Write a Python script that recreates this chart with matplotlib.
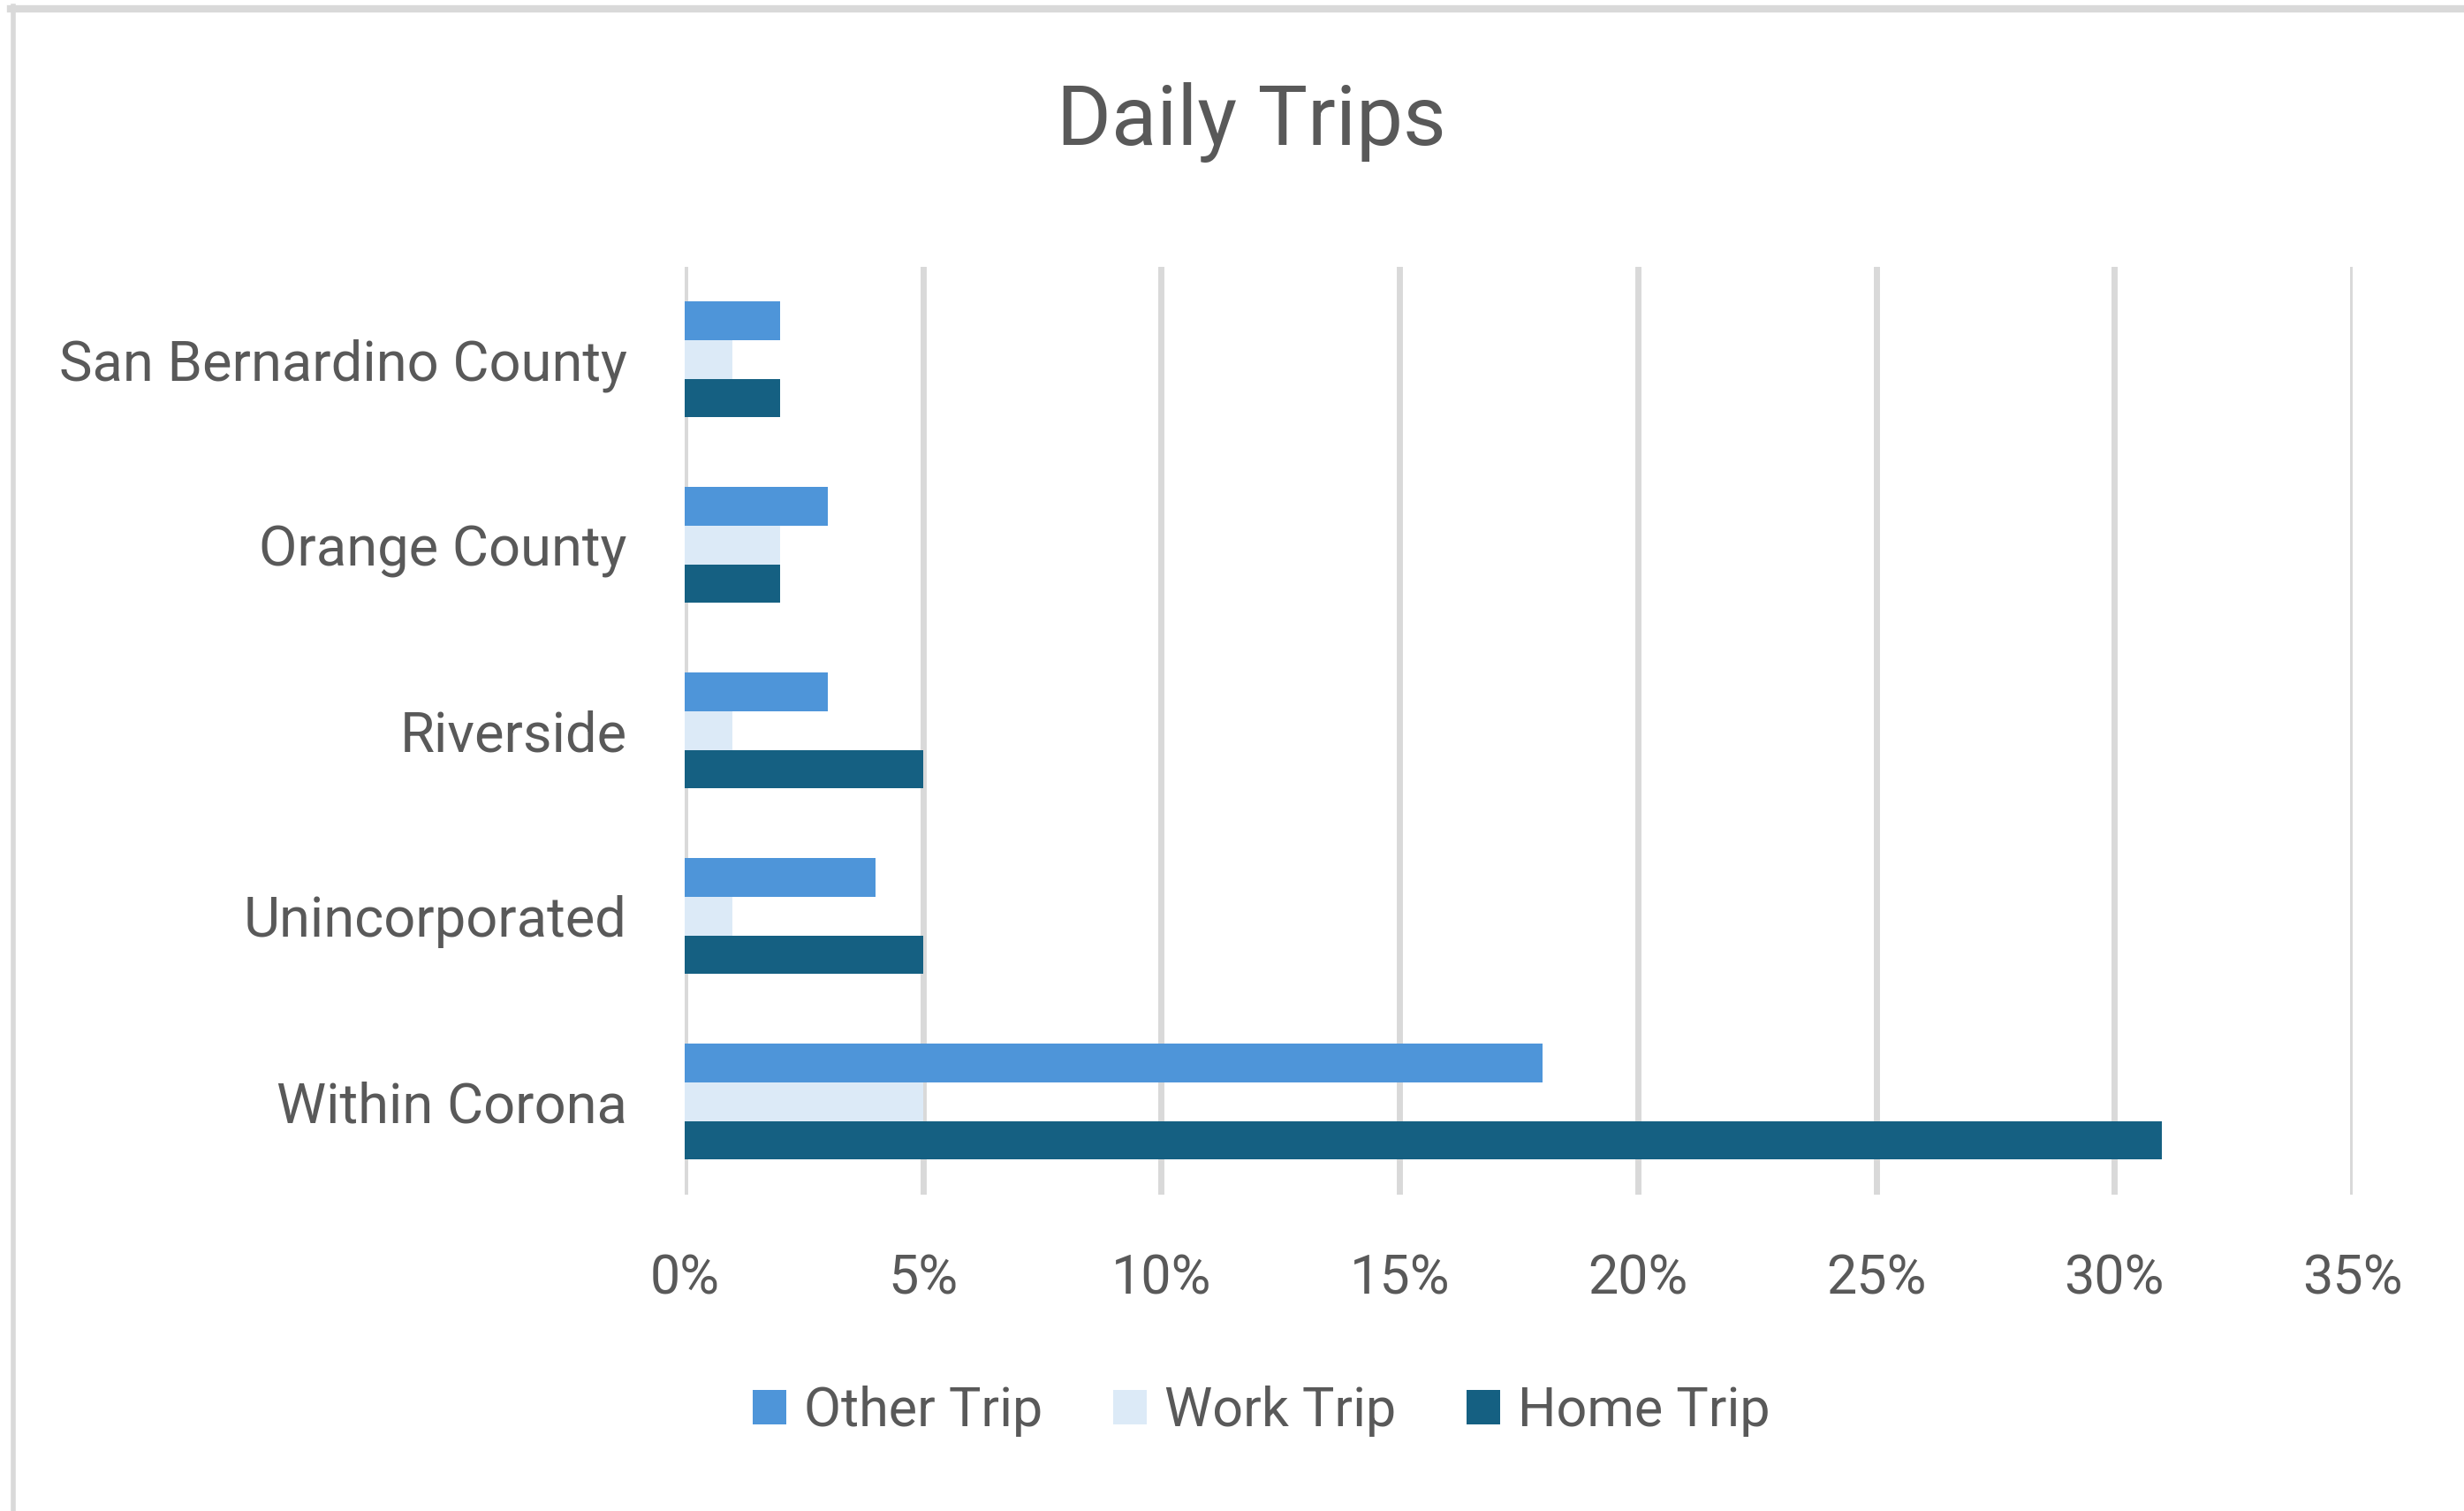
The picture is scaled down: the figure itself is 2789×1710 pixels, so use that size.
from matplotlib import pyplot as plt
from matplotlib.lines import Line2D
import numpy as np

# categories listed bottom -> top
categories = ['Within Corona', 'Unincorporated', 'Riverside', 'Orange County', 'San Bernardino County']
other_trip = [18, 4, 3, 3, 2]
work_trip = [5, 1, 1, 2, 1]
home_trip = [31, 5, 5, 2, 2]
x_ticks = [0, 5, 10, 15, 20, 25, 30, 35]

c_other = '#4E95D9'
c_work = '#DCEAF7'
c_home = '#156082'
c_text = '#595959'
c_grid = '#D9D9D9'

plt.rcParams['font.family'] = ['Roboto', 'DejaVu Sans']

fig = plt.figure(figsize=(27.89, 17.10), dpi=100)
ax = fig.add_axes([0.2779, 0.2094, 0.6769, 0.6140])

y = np.arange(len(categories))
h = 0.208
ax.barh(y + h, other_trip, height=h, color=c_other, label='Other Trip', zorder=3)
ax.barh(y, work_trip, height=h, color=c_work, label='Work Trip', zorder=3)
ax.barh(y - h, home_trip, height=h, color=c_home, label='Home Trip', zorder=3)

ax.set_xlim(0, 35)
ax.set_ylim(-0.5, len(categories) - 0.5)
ax.set_xticks(x_ticks)
ax.set_xticklabels([str(t) + '%' for t in x_ticks])
ax.set_yticks(y)
ax.set_yticklabels(categories)

ax.grid(axis='x', color=c_grid, linewidth=5, zorder=0)
ax.set_axisbelow(True)
for s in ax.spines.values():
    s.set_visible(False)
ax.tick_params(axis='both', length=0, labelsize=44, colors=c_text)
ax.tick_params(axis='y', labelsize=45.5, pad=47)
ax.tick_params(axis='x', pad=48)

fig.text(0.508, 0.919, 'Daily Trips', ha='center', va='center', fontsize=68, color=c_text)

fig.legend(loc='center', bbox_to_anchor=(0.512, 0.066), ncol=3, frameon=False,
           fontsize=44, labelcolor=c_text, handlelength=0.62, handleheight=0.62,
           handletextpad=0.33, columnspacing=1.3)

# chart frame (only top and left edges show in the crop)
fig.add_artist(Line2D([12 / 2789, 1], [1 - 10 / 1710, 1 - 10 / 1710], color=c_grid, linewidth=6))
fig.add_artist(Line2D([14.5 / 2789, 14.5 / 2789], [0, 1 - 7 / 1710], color=c_grid, linewidth=4))

plt.savefig('out.png', dpi=100)
plt.close()
